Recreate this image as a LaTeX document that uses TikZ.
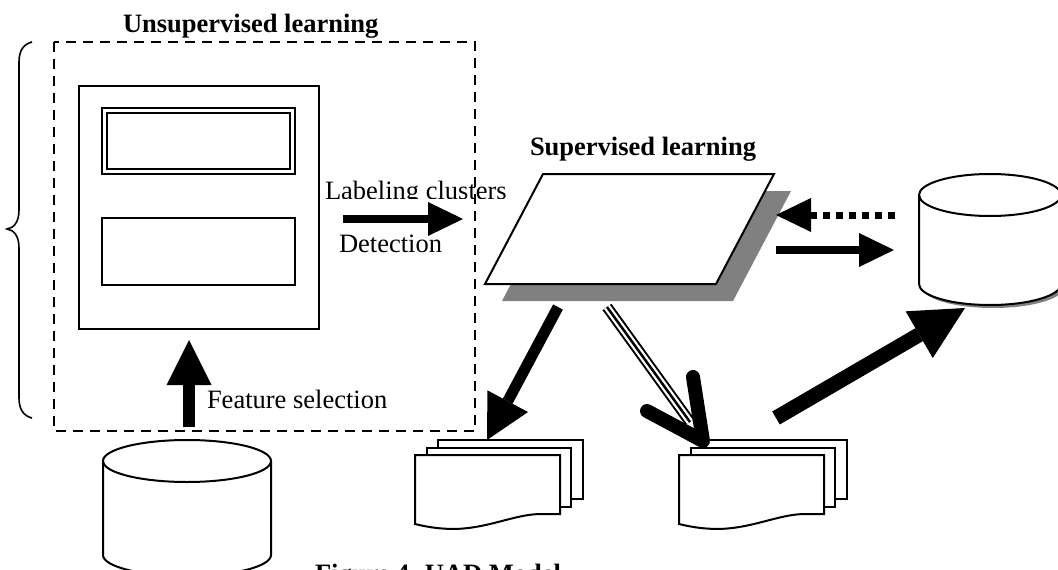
\documentclass[tikz,border=0pt]{standalone}
\usepackage{fontspec}
\setmainfont{Liberation Serif}
\usetikzlibrary{arrows.meta}
\definecolor{shadowgray}{HTML}{808080}
\begin{document}
\begin{tikzpicture}[x=1pt,y=-1pt,
  every node/.style={inner sep=0pt, outer sep=0pt, font=\fontsize{26.5}{30}\selectfont},
  box/.style={draw, line width=2pt, fill=white},
  thinline/.style={line width=2pt, line join=miter},
  doc/.style={draw, line width=2pt, fill=white},
  docstack/.pic={
    \path[doc] (23,-15) rectangle (168,44);
    \path[doc] (12,-7) rectangle (156,52);
    \path[doc] (0,0) -- (145,0) -- (145,59) -- (124,59)
      .. controls (98,60) and (74,73) .. (40,74)
      .. controls (25,74) and (12,72) .. (0,69) -- cycle;
  }]
\useasboundingbox (0,0) rectangle (1058,570);
\fill[white] (0,0) rectangle (1058,570);

% ---------- brace ----------
\draw[line width=1.6pt] (32,42) .. controls (24,44) and (19,50) .. (19,62) -- (19,210)
  .. controls (19,222) and (14,228) .. (7,229)
  .. controls (14,230) and (19,236) .. (19,248) -- (19,398)
  .. controls (19,410) and (24,416) .. (32,418);

% ---------- unsupervised block ----------
\node[box, minimum width=240pt, minimum height=243pt] (cluster) at (199,207.5) {};
\draw[thinline] (102,108) rectangle (295,174);
\draw[thinline] (107,113) rectangle (290,169);
\node[box, minimum width=193pt, minimum height=67pt] (lower) at (198.5,251.5) {};

% ---------- texts ----------
\node[anchor=base west, font=\fontsize{26.5}{30}\selectfont\bfseries] (unsup) at (123,32) {Unsupervised learning};
\node[anchor=base west, font=\fontsize{26.5}{30}\selectfont\bfseries] (sup) at (530,155) {Supervised learning};
\begin{scope}
  \clip (300,150) rectangle (530,198);
  \node[anchor=base west] (labl) at (325,199) {Labeling clusters};
\end{scope}
\node[anchor=base west] (det) at (339,252) {Detection};
\node[anchor=base west] (feat) at (207,408) {Feature selection};
\node[anchor=base west, font=\fontsize{26.5}{30}\selectfont\bfseries] (cap) at (315,582) {Figure 4. UAD Model};

% ---------- dashed frame ----------
\draw[line width=2.5pt, dash pattern=on 10pt off 7pt] (54,42) rectangle (475,431);
\coordinate (frame) at (264.5,236.5);

% ---------- bottom-left database ----------
\fill[white] (103,461) -- (103,555) .. controls (103,566.6) and (140.6,576) .. (187,576)
  .. controls (233.4,576) and (271,566.6) .. (271,555) -- (271,461) -- cycle;
\draw[line width=2pt] (103,461) -- (103,555) .. controls (103,566.6) and (140.6,576) .. (187,576)
  .. controls (233.4,576) and (271,566.6) .. (271,555) -- (271,461);
\draw[line width=2pt] (103,461) .. controls (103,449.4) and (140.6,440) .. (187,440)
  .. controls (233.4,440) and (271,449.4) .. (271,461)
  .. controls (271,472.6) and (233.4,482) .. (187,482)
  .. controls (140.6,482) and (103,472.6) .. (103,461) -- cycle;
\coordinate (db1) at (187,461);

% ---------- supervised parallelogram ----------
\fill[shadowgray] (560,191) -- (791,191) -- (733,301) -- (502,301) -- cycle;
\draw[line width=2pt, fill=white] (543,174) -- (774,174) -- (716,284) -- (485,284) -- cycle;
\coordinate (para) at (629,229);

% ---------- right database ----------
\fill[shadowgray] (922,198) -- (922,287) .. controls (922,298.6) and (953.8,308) .. (993,308)
  .. controls (1032.2,308) and (1064,298.6) .. (1064,287) -- (1064,198) -- cycle;
\fill[white] (919,195) -- (919,284) .. controls (919,295.6) and (950.8,305) .. (990,305)
  .. controls (1029.2,305) and (1061,295.6) .. (1061,284) -- (1061,195) -- cycle;
\draw[line width=2pt] (919,195) -- (919,284) .. controls (919,295.6) and (950.8,305) .. (990,305)
  .. controls (1029.2,305) and (1061,295.6) .. (1061,284) -- (1061,195);
\draw[line width=2pt] (919,195) .. controls (919,183.4) and (950.8,174) .. (990,174)
  .. controls (1029.2,174) and (1061,183.4) .. (1061,195)
  .. controls (1061,206.6) and (1029.2,216) .. (990,216)
  .. controls (950.8,216) and (919,206.6) .. (919,195) -- cycle;
\coordinate (db2) at (990,240);

% ---------- document stacks ----------
\pic (docsL) at (415,455) {docstack};
\pic (docsR) at (679,455) {docstack};

% ---------- arrows ----------
\coordinate (a1s) at (343,219); \coordinate (a1e) at (463,219);
\draw[line width=8pt, -{Triangle[length=35pt,width=34pt,line width=0pt]}] (a1s) -- (a1e);

\coordinate (a2s) at (189,427); \coordinate (a2e) at (189,340);
\draw[line width=12pt, -{Triangle[length=45pt,width=45pt,line width=0pt]}] (a2s) -- (a2e);

\coordinate (a3s) at (895,215); \coordinate (a3e) at (776,215);
\draw[line width=7pt, dash pattern=on 7pt off 6pt, -{Triangle[length=35pt,width=34pt,line width=0pt]}] (a3s) -- (a3e);

\coordinate (a4s) at (776,250); \coordinate (a4e) at (894,250);
\draw[line width=8pt, -{Triangle[length=35pt,width=34pt,line width=0pt]}] (a4s) -- (a4e);

\coordinate (a5s) at (558,307); \coordinate (a5e) at (487,440);
\draw[line width=11pt, -{Triangle[length=44pt,width=46pt,line width=0pt]}] (a5s) -- (a5e);

\coordinate (a6s) at (776,418); \coordinate (a6e) at (965,308);
\draw[line width=15pt, -{Triangle[length=53pt,width=54pt,line width=0pt]}] (a6s) -- (a6e);

% triple-line arrow with open head
\coordinate (a7s) at (607,307); \coordinate (a7m) at (690,422);
\draw[line width=11pt, black] (a7s) -- (a7m);
\draw[line width=7pt, white] (a7s) -- (a7m);
\draw[line width=2.5pt, black] (a7s) -- (a7m);
\coordinate (a7t) at (703,441); \coordinate (a7l) at (647,411); \coordinate (a7r) at (693,377);
\draw[line width=14pt, line cap=round, line join=round] (a7l) -- (a7t) -- (a7r);
\end{tikzpicture}
\end{document}
